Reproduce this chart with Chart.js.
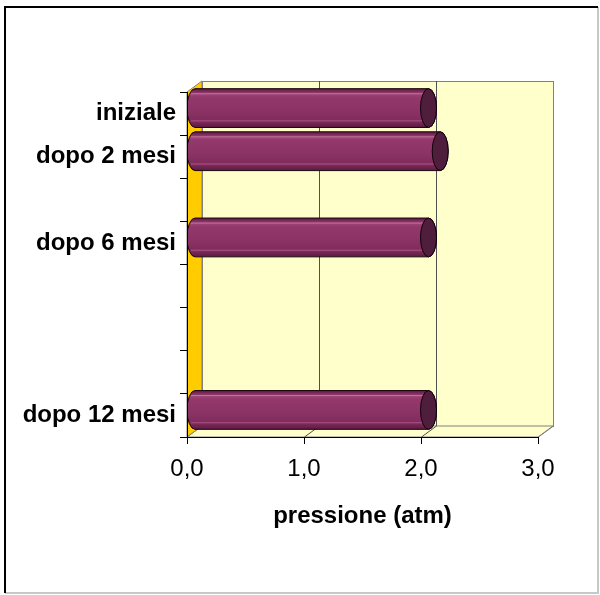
<!DOCTYPE html>
<html>
<head>
<meta charset="utf-8">
<script src="https://cdn.jsdelivr.net/npm/chart.js@4.4.1/dist/chart.umd.min.js"></script>
<style>
  html, body { margin: 0; padding: 0; background: #fff; }
  #wrap { width: 600px; height: 595px; }
</style>
</head>
<body>
<div id="wrap"><canvas id="c" width="600" height="595"></canvas></div>
<script>
// ---- data ----
const categories = ['iniziale', 'dopo 2 mesi', '', 'dopo 6 mesi', '', '', '', 'dopo 12 mesi'];
const pressure = [2.0, 2.1, null, 2.0, null, null, null, 2.0];
const xTicks = [0, 1, 2, 3];
const xTitle = 'pressione (atm)';

// ---- 3D look ----
const DX = 15, DY = 11;
const FONT = "'Liberation Sans', Arial, sans-serif";

const walls = {
  id: 'walls',
  beforeDraw(chart) {
    const ctx = chart.ctx;
    const xs = chart.scales.x;
    const T = chart.chartArea.top, B = chart.chartArea.bottom;
    const L = xs.getPixelForValue(xTicks[0]);
    const R = xs.getPixelForValue(xTicks[xTicks.length - 1]);
    ctx.save();
    ctx.fillStyle = '#ffffff';
    ctx.fillRect(0, 0, chart.width, chart.height);
    // outer frame
    ctx.lineWidth = 2;
    ctx.strokeStyle = '#c8c8c8';
    ctx.beginPath();
    ctx.moveTo(598, 7); ctx.lineTo(598, 593); ctx.lineTo(5, 593);
    ctx.stroke();
    ctx.strokeStyle = '#000';
    ctx.beginPath();
    ctx.moveTo(5, 593); ctx.lineTo(5, 7); ctx.lineTo(598, 7);
    ctx.stroke();

    ctx.lineWidth = 1;
    // back wall
    ctx.fillStyle = '#FFFFCC';
    ctx.strokeStyle = '#808080';
    ctx.fillRect(L + DX, T - DY, R - L, B - T);
    ctx.strokeRect(L + DX + 0.5, T - DY + 0.5, R - L, B - T);
    // floor
    ctx.beginPath();
    ctx.moveTo(L, B); ctx.lineTo(L + DX, B - DY); ctx.lineTo(R + DX, B - DY); ctx.lineTo(R, B);
    ctx.closePath();
    ctx.fill(); ctx.stroke();
    // side wall
    ctx.fillStyle = '#FFCC00';
    ctx.beginPath();
    ctx.moveTo(L, T); ctx.lineTo(L + DX, T - DY); ctx.lineTo(L + DX, B - DY); ctx.lineTo(L, B);
    ctx.closePath();
    ctx.fill(); ctx.stroke();
    // grid lines on back wall & floor
    ctx.strokeStyle = '#505050';
    xTicks.slice(1, -1).forEach(v => {
      const px = Math.round(xs.getPixelForValue(v)) + 0.5;
      ctx.beginPath();
      ctx.moveTo(px + DX, T - DY); ctx.lineTo(px + DX, B - DY);
      ctx.lineTo(px, B);
      ctx.stroke();
    });
    ctx.strokeStyle = '#808080';
    const pr = Math.round(R) + 0.5;
    ctx.beginPath();
    ctx.moveTo(pr + DX, B - DY); ctx.lineTo(pr, B);
    ctx.stroke();
    ctx.restore();
  }
};

const cylinders = {
  id: 'cylinders',
  afterDatasetsDraw(chart) {
    const ctx = chart.ctx;
    const L = chart.scales.x.getPixelForValue(0);
    const meta = chart.getDatasetMeta(0);
    meta.data.forEach((el, i) => {
      if (pressure[i] === null || pressure[i] === undefined) return;
      const h = el.height;
      const yc = el.y - DY / 2;
      const top = yc - h / 2, bot = yc + h / 2;
      const rx = 8;
      const capX = el.x + DX / 2;
      const leftX = el.base + DX / 2;
      ctx.save();
      ctx.beginPath();
      ctx.rect(L + 1, 0, chart.width, chart.height);
      ctx.clip();
      const g = ctx.createLinearGradient(0, top, 0, bot);
      g.addColorStop(0.00, '#5A1A40');
      g.addColorStop(0.06, '#7A2857');
      g.addColorStop(0.14, '#9E4679');
      g.addColorStop(0.22, '#93386B');
      g.addColorStop(0.55, '#8C3365');
      g.addColorStop(0.85, '#7E2B5B');
      g.addColorStop(1.00, '#5A1A3F');
      ctx.beginPath();
      ctx.moveTo(leftX, top);
      ctx.lineTo(capX, top);
      ctx.ellipse(capX, yc, rx, h / 2, 0, -Math.PI / 2, Math.PI / 2);
      ctx.lineTo(leftX, bot);
      ctx.ellipse(leftX, yc, rx, h / 2, 0, Math.PI / 2, Math.PI * 1.5);
      ctx.closePath();
      ctx.fillStyle = g;
      ctx.fill();
      ctx.lineWidth = 1;
      ctx.strokeStyle = '#1a0510';
      ctx.stroke();
      // highlight stripes
      ctx.lineWidth = 1;
      ctx.strokeStyle = 'rgba(220,140,180,0.65)';
      ctx.beginPath();
      ctx.moveTo(leftX - 4, top + h * 0.13); ctx.lineTo(capX, top + h * 0.13);
      ctx.stroke();
      ctx.strokeStyle = 'rgba(200,110,160,0.6)';
      ctx.beginPath();
      ctx.moveTo(leftX - 4, top + h * 0.83); ctx.lineTo(capX, top + h * 0.83);
      ctx.stroke();
      // end cap
      ctx.beginPath();
      ctx.ellipse(capX, yc, rx, h / 2, 0, 0, Math.PI * 2);
      ctx.fillStyle = '#4F1E3C';
      ctx.fill();
      ctx.strokeStyle = '#100008';
      ctx.stroke();
      ctx.restore();
    });
  }
};

new Chart(document.getElementById('c'), {
  type: 'bar',
  data: {
    labels: categories,
    datasets: [{
      data: pressure,
      backgroundColor: 'rgba(0,0,0,0)',
      borderWidth: 0,
      categoryPercentage: 1.0,
      barPercentage: 0.9
    }]
  },
  options: {
    indexAxis: 'y',
    responsive: false,
    animation: false,
    devicePixelRatio: 1,
    layout: { padding: { left: 0, right: 62, top: 92, bottom: 64 } },
    plugins: { legend: { display: false }, tooltip: { enabled: false } },
    scales: {
      y: {
        type: 'category',
        afterFit(s) { s.width = 187; },
        grid: { display: true, drawOnChartArea: false, drawTicks: true, tickLength: 7, color: '#000', offset: true },
        border: { display: true, color: '#000', width: 1 },
        ticks: { color: '#000', padding: 4, font: { family: FONT, size: 24, weight: 'bold' }, autoSkip: false }
      },
      x: {
        type: 'linear',
        min: xTicks[0],
        max: xTicks[xTicks.length - 1],
        afterFit(s) { s.height = 94; },
        afterBuildTicks(s) { s.ticks = xTicks.map(v => ({ value: v })); },
        grid: { display: true, drawOnChartArea: false, drawTicks: true, tickLength: 7, color: '#000' },
        border: { display: true, color: '#000', width: 1 },
        ticks: {
          color: '#000', padding: 11,
          font: { family: FONT, size: 24 },
          callback: v => Number(v).toFixed(1).replace('.', ',')
        },
        title: {
          display: true, text: xTitle, color: '#000',
          padding: { top: 0, bottom: 0 },
          font: { family: FONT, size: 24, weight: 'bold' }
        }
      }
    }
  },
  plugins: [walls, cylinders]
});
</script>
</body>
</html>
